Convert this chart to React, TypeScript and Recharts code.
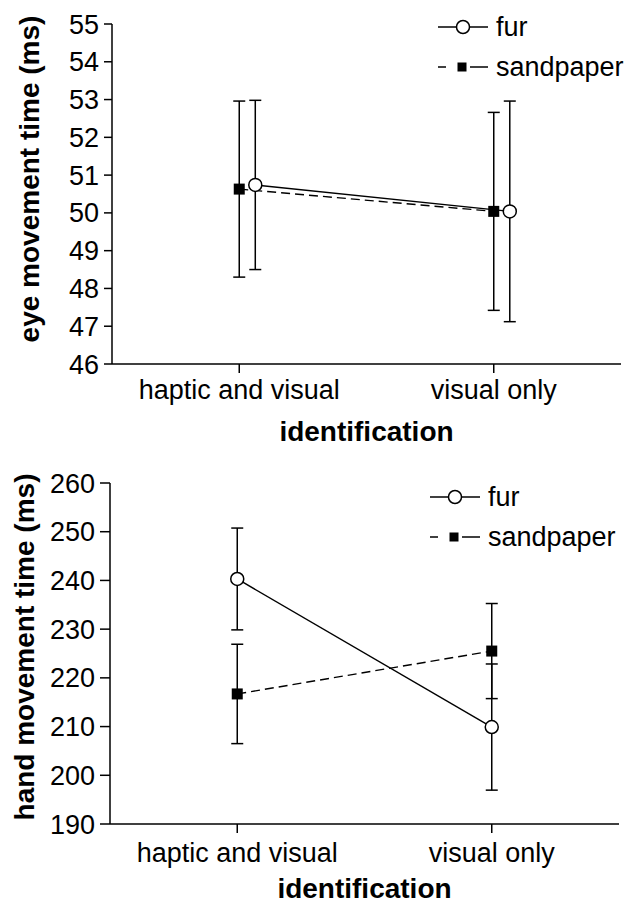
import { LineChart, Line, XAxis, YAxis, ErrorBar, Legend, Label } from "recharts";

const categories = ["haptic and visual", "visual only"];

// eye movement time (ms), mean and SE per condition
const eyeFur = [50.74, 50.04];
const eyeFurSE = [2.24, 2.92];
const eyeSand = [50.63, 50.04];
const eyeSandSE = [2.33, 2.62];
const eyeTicks = [46, 47, 48, 49, 50, 51, 52, 53, 54, 55];

// hand movement time (ms)
const handFur = [240.3, 209.9];
const handFurSE = [10.45, 12.95];
const handSand = [216.7, 225.5];
const handSandSE = [10.2, 9.76];
const handTicks = [190, 200, 210, 220, 230, 240, 250, 260];

const FONT = '"Liberation Sans", Arial, Helvetica, sans-serif';
const TICK = { fill: "#000", fontSize: 27, fontFamily: FONT };
const AXIS = { stroke: "#000", strokeWidth: 1.5 };

// horizontal nudge so overlapping conditions stay readable (top panel only)
const rows = (vals: number[], se: number[], dodge = 0) =>
  vals.map((v, i) => ({ x: i + dodge, y: v, se: se[i] }));

const squareDot = (size: number) => (p: any) => (
  <rect
    key={`sq-${p.index}`}
    x={p.cx - size / 2}
    y={p.cy - size / 2}
    width={size}
    height={size}
    fill="#000"
  />
);

function LegendBox({ rowGap }: { rowGap: number }) {
  const item = (name: string, dashed: boolean) => (
    <div style={{ display: "flex", alignItems: "center", height: rowGap }}>
      <svg width={54} height={20} style={{ marginRight: 6 }}>
        {dashed ? (
          <>
            <line x1={2} y1={10} x2={10} y2={10} stroke="#000" strokeWidth={1.5} />
            <rect x={21.5} y={5.5} width={9} height={9} fill="#000" />
            <line x1={34} y1={10} x2={52} y2={10} stroke="#000" strokeWidth={1.5} />
          </>
        ) : (
          <>
            <line x1={2} y1={10} x2={52} y2={10} stroke="#000" strokeWidth={1.5} />
            <circle cx={27} cy={10} r={6.5} fill="#fff" stroke="#000" strokeWidth={1.5} />
          </>
        )}
      </svg>
      <span style={{ fontSize: 27, fontFamily: FONT, color: "#000" }}>{name}</span>
    </div>
  );
  return (
    <div>
      {item("fur", false)}
      {item("sandpaper", true)}
    </div>
  );
}

interface PanelProps {
  height: number;
  top: number;
  right: number;
  yWidth: number;
  xHeight: number;
  domain: [number, number];
  ticks: number[];
  ySize: number;
  xMargin: number;
  furData: { x: number; y: number; se: number }[];
  sandData: { x: number; y: number; se: number }[];
  yLabel: string;
  yLabelPos: [number, number];
  xLabelY: number;
  legendTop: number;
  legendLeft: number;
}

function Panel(p: PanelProps) {
  return (
    <LineChart
      width={629}
      height={p.height}
      margin={{ top: p.top, right: p.right, bottom: 0, left: 0 }}
    >
      <XAxis
        type="number"
        dataKey="x"
        domain={[-0.5, 1.5]}
        ticks={[0, 1]}
        tickFormatter={(v: number) => categories[v] ?? ""}
        tick={TICK}
        tickSize={9}
        tickMargin={p.xMargin}
        axisLine={AXIS}
        tickLine={AXIS}
        height={p.xHeight}
        allowDataOverflow
      >
        <Label
          content={(lp: any) => {
            const vb = lp.viewBox || {};
            return (
              <text
                x={vb.x + vb.width / 2}
                y={p.xLabelY}
                textAnchor="middle"
                fontSize={28}
                fontWeight="bold"
                fontFamily={FONT}
                fill="#000"
              >
                identification
              </text>
            );
          }}
        />
      </XAxis>
      <YAxis
        type="number"
        domain={p.domain}
        ticks={p.ticks}
        interval={0}
        tick={TICK}
        tickSize={p.ySize}
        tickMargin={5}
        axisLine={AXIS}
        tickLine={AXIS}
        width={p.yWidth}
        allowDataOverflow
      >
        <Label
          content={() => (
            <text
              x={p.yLabelPos[0]}
              y={p.yLabelPos[1]}
              transform={`rotate(-90 ${p.yLabelPos[0]} ${p.yLabelPos[1]})`}
              textAnchor="middle"
              dominantBaseline="central"
              fontSize={28}
              fontWeight="bold"
              fontFamily={FONT}
              fill="#000"
            >
              {p.yLabel}
            </text>
          )}
        />
      </YAxis>
      <Legend
        layout="vertical"
        verticalAlign="middle"
        align="center"
        content={() => <LegendBox rowGap={40} />}
        wrapperStyle={{ top: p.legendTop, left: p.legendLeft, width: 200 }}
      />
      <Line
        data={p.sandData}
        dataKey="y"
        name="sandpaper"
        stroke="#000"
        strokeWidth={1.4}
        strokeDasharray="9 5"
        dot={squareDot(11)}
        activeDot={false}
        isAnimationActive={false}
      >
        <ErrorBar dataKey="se" direction="y" width={6} stroke="#000" strokeWidth={1.5} />
      </Line>
      <Line
        data={p.furData}
        dataKey="y"
        name="fur"
        stroke="#000"
        strokeWidth={1.4}
        dot={{ r: 6.5, fill: "#fff", stroke: "#000", strokeWidth: 1.5 }}
        activeDot={false}
        isAnimationActive={false}
      >
        <ErrorBar dataKey="se" direction="y" width={6} stroke="#000" strokeWidth={1.5} />
      </Line>
    </LineChart>
  );
}

export default function App() {
  return (
    <div
      style={{
        position: "absolute",
        left: 0,
        top: 0,
        width: 629,
        height: 905,
        background: "#fff",
        fontFamily: FONT,
      }}
    >
      <Panel
        height={450}
        top={24}
        right={8}
        yWidth={112}
        xHeight={86}
        domain={[46, 55]}
        ticks={eyeTicks}
        ySize={8}
        xMargin={7}
        furData={rows(eyeFur, eyeFurSE, 0.063)}
        sandData={rows(eyeSand, eyeSandSE)}
        yLabel="eye movement time (ms)"
        yLabelPos={[29, 179]}
        xLabelY={441}
        legendTop={7}
        legendLeft={436}
      />
      <Panel
        height={455}
        top={33}
        right={10}
        yWidth={110}
        xHeight={81}
        domain={[190, 260]}
        ticks={handTicks}
        ySize={10}
        xMargin={10}
        furData={rows(handFur, handFurSE)}
        sandData={rows(handSand, handSandSE)}
        yLabel="hand movement time (ms)"
        yLabelPos={[24, 197]}
        xLabelY={448}
        legendTop={27}
        legendLeft={428}
      />
    </div>
  );
}
